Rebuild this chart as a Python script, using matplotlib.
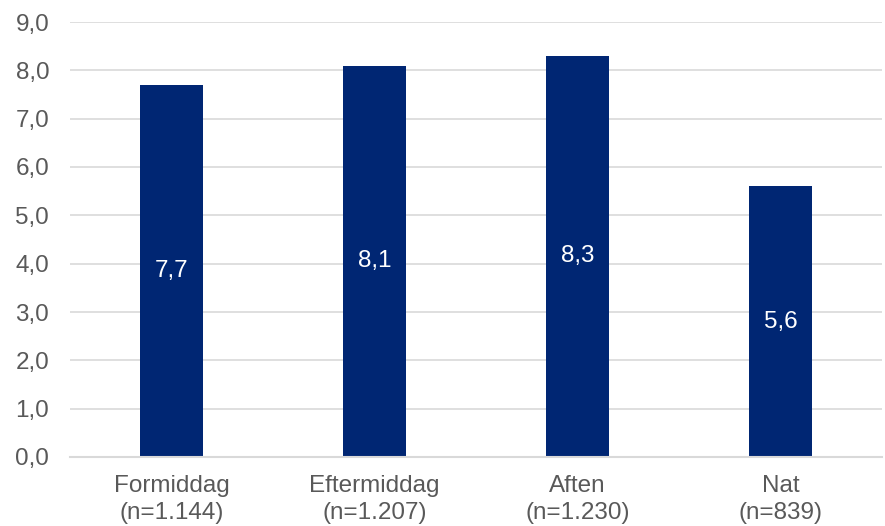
import matplotlib
matplotlib.use("Agg")
import matplotlib.pyplot as plt
from matplotlib.ticker import FuncFormatter

plt.rcParams['font.family'] = ['Liberation Sans', 'DejaVu Sans']

categories = ["Formiddag\n(n=1.144)", "Eftermiddag\n(n=1.207)", "Aften\n(n=1.230)", "Nat\n(n=839)"]
values = [7.7, 8.1, 8.3, 5.6]
y_ticks = [0, 1, 2, 3, 4, 5, 6, 7, 8, 9]

bar_color = "#002673"
text_color = "#595959"
grid_color = "#d9d9d9"
fs = 17.5

fig = plt.figure(figsize=(8.85, 5.26), dpi=100)
ax = fig.add_axes([70 / 885, 1 - 457 / 526, 812 / 885, 435 / 526])

x = range(len(categories))
bars = ax.bar(x, values, width=0.31, color=bar_color, zorder=3)

for xi, v in zip(x, values):
    ax.text(xi, v / 2, f"{v:.1f}".replace(".", ","), ha="center", va="center",
            color="white", fontsize=fs, zorder=4)

ax.set_xlim(-0.5, len(categories) - 0.5)
ax.set_ylim(0, 9)
ax.set_yticks(y_ticks)
ax.yaxis.set_major_formatter(FuncFormatter(lambda v, p: f"{v:.1f}".replace(".", ",")))
ax.set_xticks(list(x))
ax.set_xticklabels(categories)

ax.grid(axis="y", color=grid_color, linewidth=1.2, zorder=0)
for side in ("top", "right", "left"):
    ax.spines[side].set_visible(False)
ax.spines["bottom"].set_color(grid_color)
ax.spines["bottom"].set_linewidth(1.5)
ax.spines["bottom"].set_zorder(5)

ax.tick_params(axis="both", length=0, labelsize=fs, colors=text_color)
ax.tick_params(axis="y", pad=15)
ax.tick_params(axis="x", pad=13)
for lbl in ax.get_xticklabels():
    lbl.set_linespacing(1.32)

fig.savefig("out.png", dpi=100)
